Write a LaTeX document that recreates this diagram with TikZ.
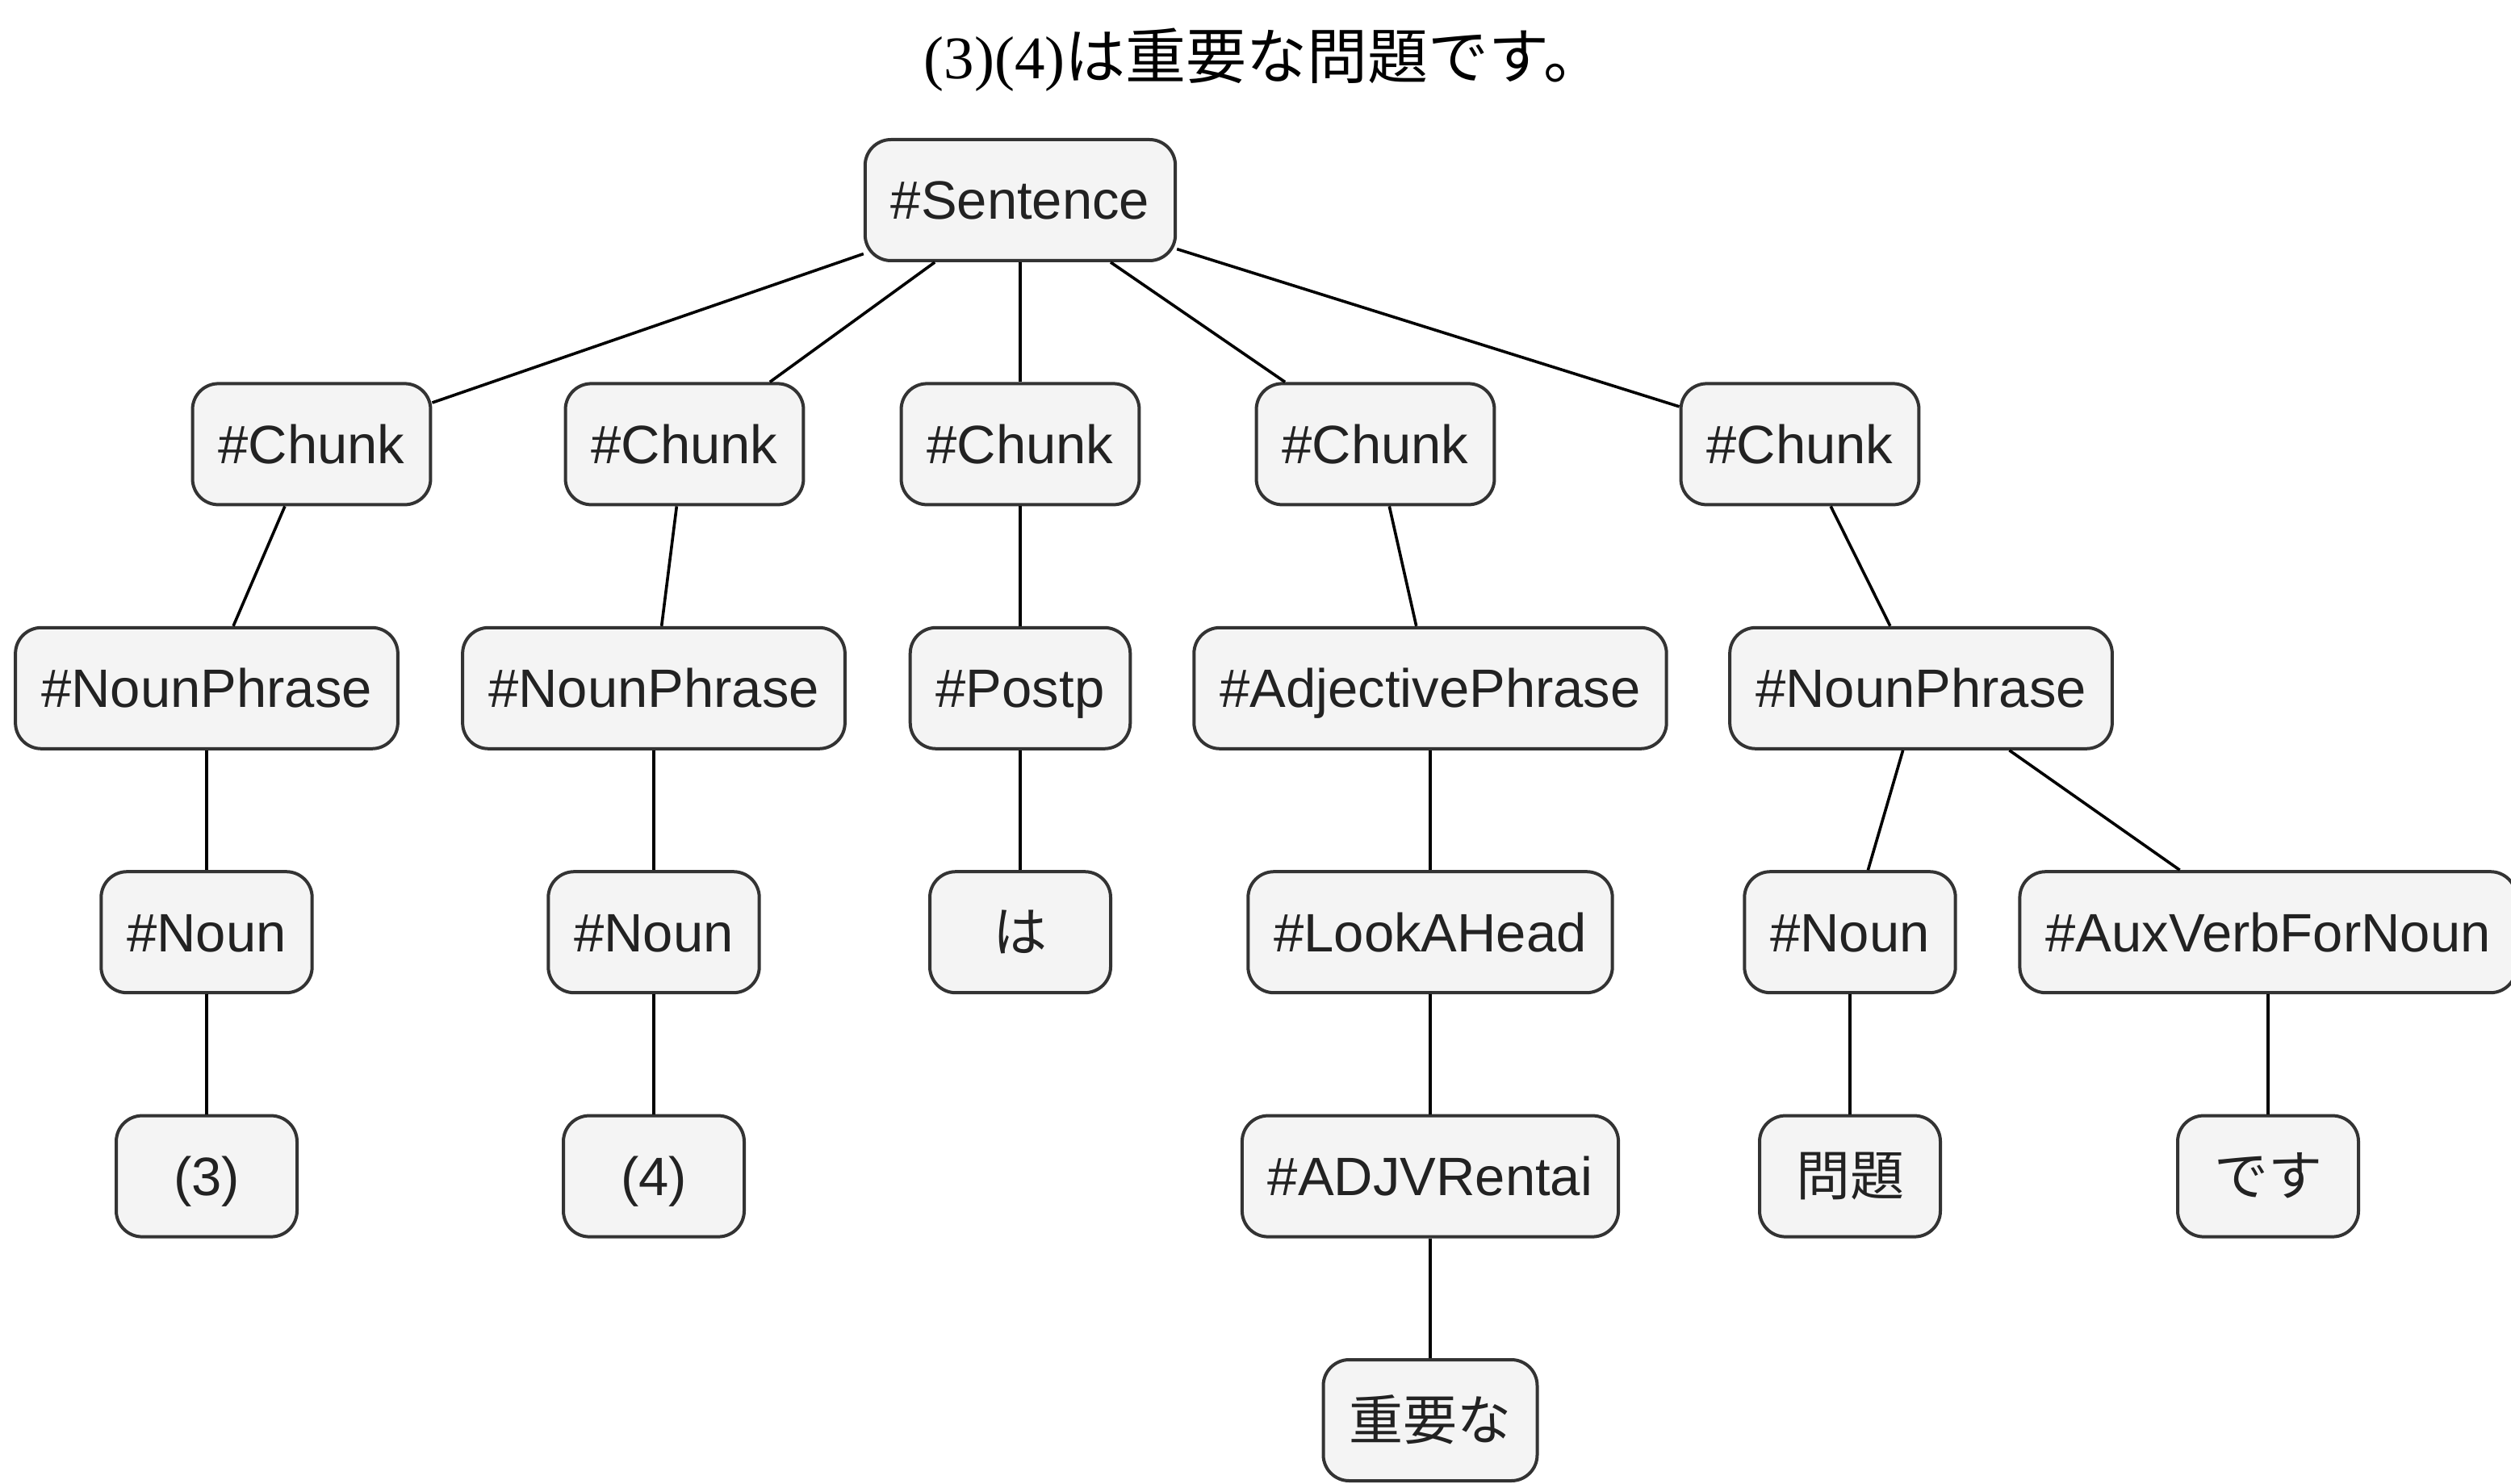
\documentclass[tikz,border=0pt]{standalone}
\usepackage{fontspec}
\usepackage{xcolor}
\usetikzlibrary{positioning}
\setmainfont{Liberation Serif}
\newfontfamily\nodefont{Liberation Sans}
\newfontfamily\jpfont{Noto Sans CJK JP}
\definecolor{nodefill}{HTML}{F4F4F4}
\definecolor{nodeline}{HTML}{333333}
\definecolor{nodetext}{HTML}{222222}

\begin{document}
\begin{tikzpicture}[
        x=1pt, y=1pt,
        node distance=74.2pt and 0pt, % spacing between rows
        tnode/.style={draw=nodeline, fill=nodefill, line width=2pt, rounded corners=16pt,
          minimum width=112pt, minimum height=75pt, inner xsep=16pt, text=nodetext,
          text height=24pt, text depth=0pt,
          font=\nodefont\fontsize{33.5}{40}\selectfont},
        link/.style={line width=1.8pt}
      ]
      \useasboundingbox (0,0) rectangle (1555.5,-919.5);

      % Title
      \node (title) at (783,-37) {\fontsize{37.5}{44}\selectfont (3)(4){\jpfont は重要な問題です。}};

      % Nodes
      \node (sent) [tnode] at (632,-124) {\#Sentence};
      \node (chunkA) [tnode, below=of sent, xshift=-439pt] {\#Chunk};
      \node (chunkB) [tnode, below=of sent, xshift=-208pt] {\#Chunk};
      \node (chunkC) [tnode, below=of sent] {\#Chunk};
      \node (chunkD) [tnode, below=of sent, xshift=220pt] {\#Chunk};
      \node (chunkE) [tnode, below=of sent, xshift=483pt] {\#Chunk};

      \node (npA) [tnode, below=of chunkA, xshift=-65pt] {\#NounPhrase};
      \node (npB) [tnode, below=of chunkB, xshift=-19pt] {\#NounPhrase};
      \node (postp) [tnode, below=of chunkC] {\#Postp};
      \node (adjp) [tnode, below=of chunkD, xshift=34pt] {\#AdjectivePhrase};
      \node (npE) [tnode, below=of chunkE, xshift=75pt] {\#NounPhrase};

      \node (nounA) [tnode, below=of npA] {\#Noun};
      \node (nounB) [tnode, below=of npB] {\#Noun};
      \node (ha) [tnode, below=of postp] {\jpfont は};
      \node (look) [tnode, below=of adjp] {\#LookAHead};
      \node (nounE) [tnode, below=of npE, xshift=-44pt] {\#Noun};
      \node (aux) [tnode, below=of npE, xshift=215pt] {\#AuxVerbForNoun};

      \node (three) [tnode, below=of nounA] {(3)};
      \node (four) [tnode, below=of nounB] {(4)};
      \node (rentai) [tnode, below=of look] {\#ADJVRentai};
      \node (mondai) [tnode, below=of nounE] {\jpfont 問題};
      \node (desu) [tnode, below=of aux] {\jpfont です};

      \node (juuyou) [tnode, below=of rentai] {\jpfont 重要な};

      % Links
      \foreach \c in {chunkA, chunkB, chunkC, chunkD, chunkE}
        \draw[link] (sent) -- (\c);
      \draw[link] (chunkA) -- (npA);
      \draw[link] (chunkB) -- (npB);
      \draw[link] (chunkC) -- (postp);
      \draw[link] (chunkD) -- (adjp);
      \draw[link] (chunkE) -- (npE);
      \draw[link] (npA) -- (nounA);
      \draw[link] (npB) -- (nounB);
      \draw[link] (postp) -- (ha);
      \draw[link] (adjp) -- (look);
      \draw[link] (npE) -- (nounE);
      \draw[link] (npE) -- (aux);
      \draw[link] (nounA) -- (three);
      \draw[link] (nounB) -- (four);
      \draw[link] (look) -- (rentai);
      \draw[link] (nounE) -- (mondai);
      \draw[link] (aux) -- (desu);
      \draw[link] (rentai) -- (juuyou);

    \end{tikzpicture}
\end{document}
